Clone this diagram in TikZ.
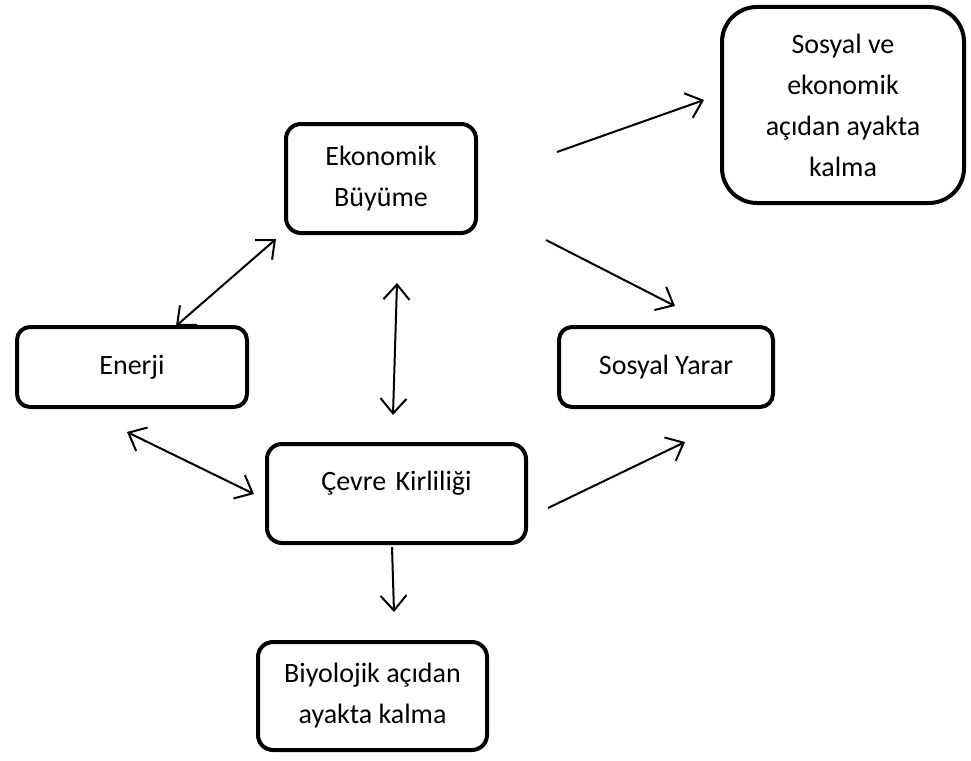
\documentclass[tikz,border=0pt]{standalone}
\usepackage{fontspec}
\setmainfont{Carlito}
\usetikzlibrary{arrows.meta,positioning}

\tikzset{
    box/.style={draw, line width=4pt, rounded corners=15pt, align=center, inner sep=0pt,
        font=\fontsize{28}{41}\selectfont},
    link/.style={line width=2pt, -{Straight Barb[length=15pt,width=26pt,line width=2pt]}},
    dlink/.style={line width=2pt, {Straight Barb[length=15pt,width=26pt,line width=2pt]}-{Straight Barb[length=15pt,width=26pt,line width=2pt]}}
}

\begin{document}
\begin{tikzpicture}[x=1pt, y=-1pt]
    \useasboundingbox (0,0) rectangle (971,760);

    % Boxes
    \node[box, minimum width=190, minimum height=109] (eko) at (381,178.5) {Ekonomik\\Büyüme};
    \node[box, minimum width=242, minimum height=196, rounded corners=35pt] (sosek) at (843,105)
        {Sosyal ve\\ekonomik\\açıdan ayakta\\kalma};
    \node[box, minimum width=230, minimum height=80, rounded corners=13pt] (enerji) at (132,367) {Enerji};
    \node[box, minimum width=214, minimum height=80, rounded corners=13pt] (yarar) at (666,367) {Sosyal Yarar};
    \node[box, anchor=north, text width=259, text height=46, text depth=53] (cevre) at (396.5,442)
        {Çevre Kirliliği};
    \node[box, minimum width=229, minimum height=108] (biyo) at (372.5,696) {Biyolojik açıdan\\ayakta kalma};

    % Connector ends
    \coordinate (eko-a) at (557,152);  \coordinate (sosek-a) at (704,100);
    \coordinate (eko-b) at (276,239);  \coordinate (enerji-b) at (176,326);
    \coordinate (eko-c) at (397,283);  \coordinate (cevre-c) at (393,415);
    \coordinate (eko-d) at (546,240);  \coordinate (yarar-d) at (675,306);
    \coordinate (enerji-e) at (127,432); \coordinate (cevre-e) at (254,494);
    \coordinate (cevre-f) at (548,508); \coordinate (yarar-f) at (685,442);
    \coordinate (cevre-g) at (392,547); \coordinate (biyo-g) at (394,612);

    % Connectors
    \draw[link] (eko-a) -- (sosek-a);
    \draw[dlink] (eko-b) -- (enerji-b);
    \draw[dlink] (eko-c) -- (cevre-c);
    \draw[link] (eko-d) -- (yarar-d);
    \draw[dlink] (enerji-e) -- (cevre-e);
    \draw[link] (cevre-f) -- (yarar-f);
    \draw[link] (cevre-g) -- (biyo-g);
\end{tikzpicture}
\end{document}
